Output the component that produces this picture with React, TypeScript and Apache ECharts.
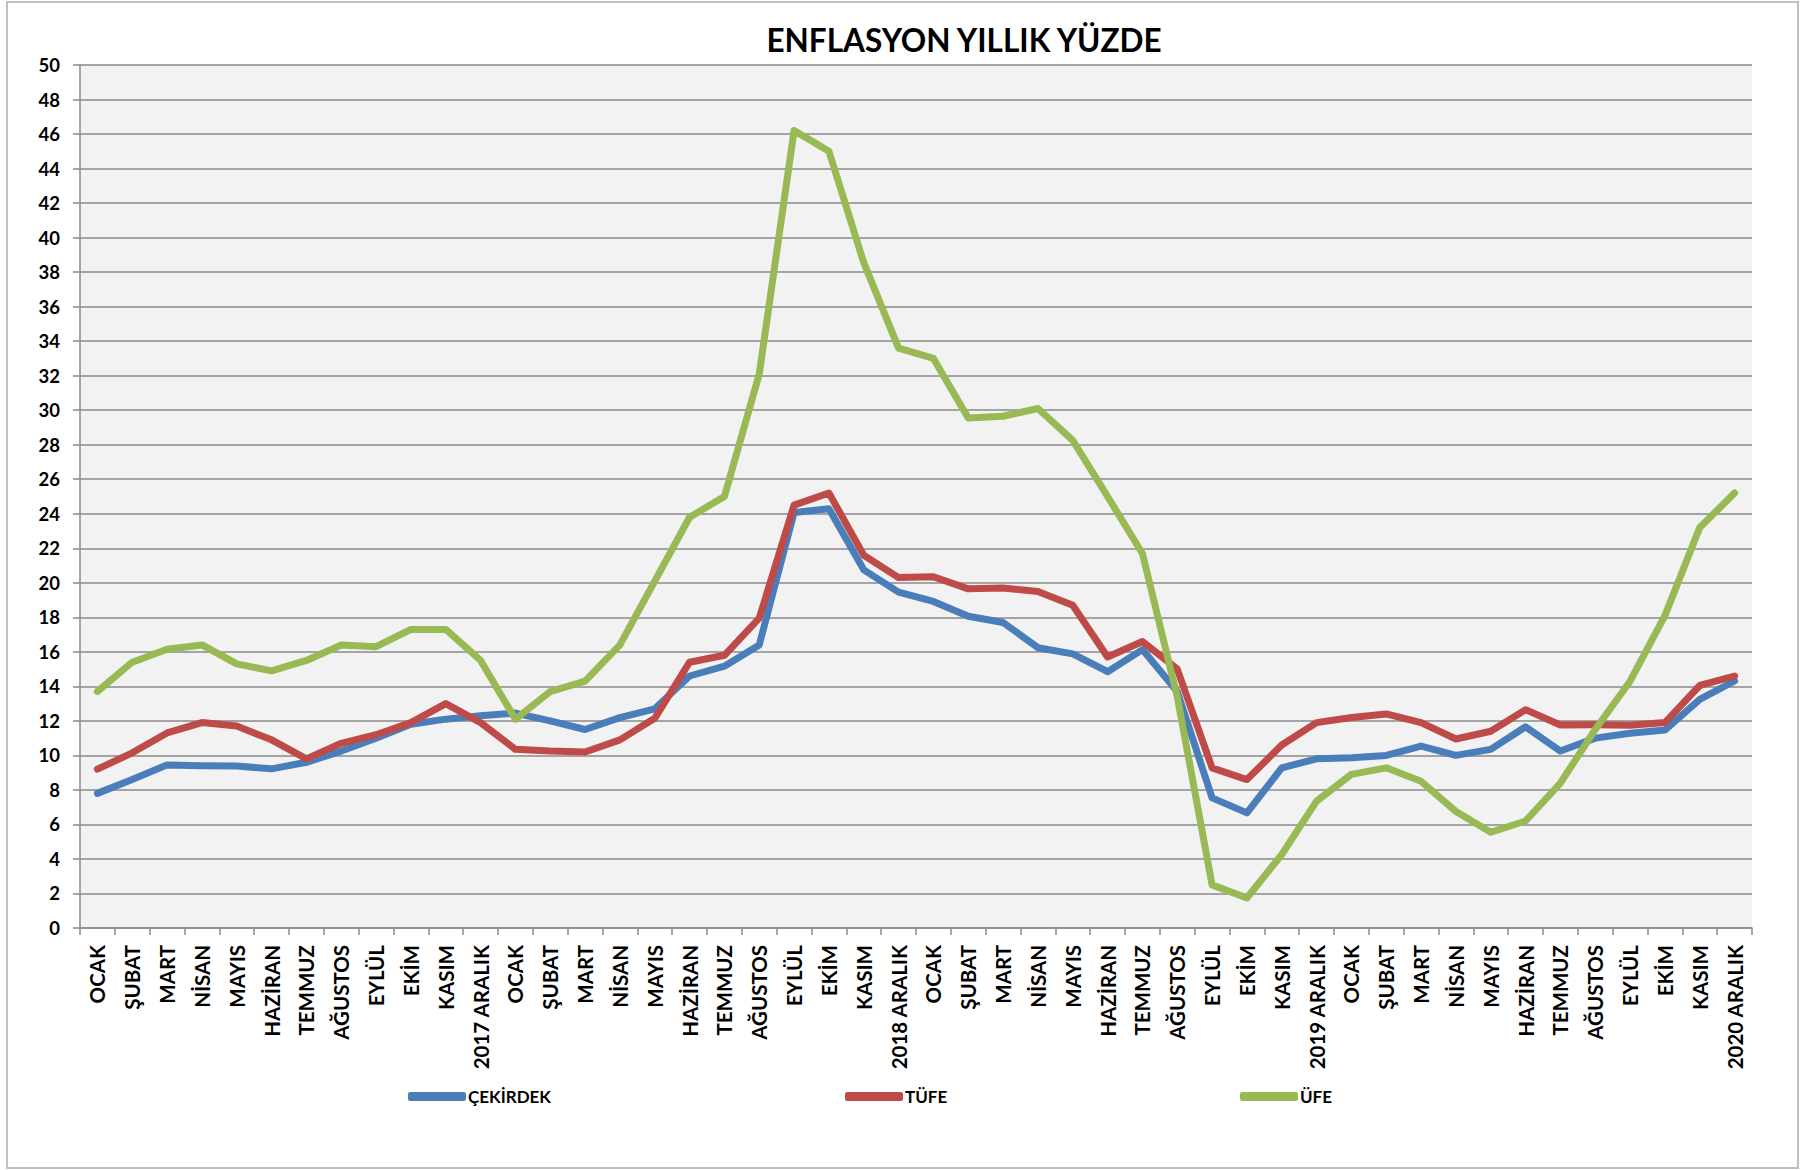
import React, { useEffect, useRef } from "react";
import * as echarts from "echarts";

const MONTHS = ["OCAK", "ŞUBAT", "MART", "NİSAN", "MAYIS", "HAZİRAN", "TEMMUZ", "AĞUSTOS", "EYLÜL", "EKİM", "KASIM"];
const YEARS = ["2017", "2018", "2019", "2020"];
const CATEGORIES: string[] = [];
YEARS.forEach((y) => {
  MONTHS.forEach((m) => CATEGORIES.push(m));
  CATEGORIES.push(y + " ARALIK");
});

const CEKIRDEK = [
  7.8, 8.6, 9.45, 9.4, 9.38, 9.22, 9.6, 10.25, 11.0, 11.8, 12.1, 12.3,
  12.45, 12.0, 11.5, 12.19, 12.7, 14.6, 15.17, 16.4, 24.07, 24.29, 20.75, 19.46,
  18.92, 18.06, 17.7, 16.24, 15.88, 14.85, 16.13, 13.7, 7.54, 6.67, 9.28, 9.8,
  9.86, 10.0, 10.54, 10.0, 10.35, 11.66, 10.25, 11.0, 11.28, 11.47, 13.25, 14.31,
];
const TUFE = [
  9.2, 10.15, 11.3, 11.9, 11.7, 10.9, 9.8, 10.7, 11.2, 11.9, 13.0, 11.9,
  10.35, 10.25, 10.2, 10.9, 12.15, 15.4, 15.8, 17.95, 24.5, 25.2, 21.6, 20.3,
  20.35, 19.65, 19.7, 19.5, 18.7, 15.7, 16.6, 15.0, 9.28, 8.6, 10.6, 11.9,
  12.2, 12.4, 11.9, 10.95, 11.4, 12.65, 11.76, 11.77, 11.75, 11.9, 14.05, 14.6,
];
const UFE = [
  13.7, 15.4, 16.15, 16.4, 15.3, 14.9, 15.5, 16.4, 16.3, 17.3, 17.3, 15.5,
  12.1, 13.7, 14.3, 16.4, 20.1, 23.8, 25.0, 32.1, 46.2, 45.0, 38.55, 33.6,
  33.0, 29.55, 29.65, 30.1, 28.25, 25.0, 21.7, 13.4, 2.5, 1.74, 4.26, 7.35,
  8.9, 9.28, 8.5, 6.75, 5.55, 6.2, 8.4, 11.5, 14.3, 18.1, 23.2, 25.2,
];

const SERIES_NAMES = ["ÇEKİRDEK", "TÜFE", "ÜFE"];
const SERIES_COLORS = ["#4a7ebb", "#be4b48", "#98b954"];
const SERIES_DATA = [CEKIRDEK, TUFE, UFE];
const LEGEND_LEFT = [403, 840, 1235];

const TITLE = "ENFLASYON YILLIK YÜZDE";
const FONT = "Lato, 'Noto Sans', sans-serif";

export default function App() {
  const ref = useRef<HTMLDivElement>(null);
  useEffect(() => {
    if (!ref.current) return;
    const chart = echarts.init(ref.current, undefined, { renderer: "svg" });
    const gray = "#8a8a8a";
    chart.setOption({
      animation: false,
      backgroundColor: "#ffffff",
      textStyle: { fontFamily: FONT },
      graphic: [
        {
          type: "rect",
          z: -10,
          silent: true,
          shape: { x: 7, y: 2, width: 1791, height: 1166 },
          style: { fill: "#ffffff", stroke: "#c0c0c0", lineWidth: 2 },
        },
      ],
      title: {
        text: TITLE,
        left: 959,
        top: 19,
        textAlign: "center",
        textStyle: { fontFamily: FONT, fontWeight: "bold", fontSize: 31.5, color: "#000" },
      },
      legend: SERIES_NAMES.map((n, i) => ({
        data: [n],
        left: LEGEND_LEFT[i],
        top: 1083,
        icon: "roundRect",
        itemWidth: 58,
        itemHeight: 9,
        selectedMode: false,
        textStyle: { fontFamily: FONT, fontWeight: "bold", fontSize: 17, color: "#000", padding: [0, 0, 0, -3] },
      })),
      grid: {
        left: 80,
        right: 58,
        top: 65,
        bottom: 242,
        show: true,
        backgroundColor: "#f2f2f2",
        borderWidth: 0,
      },
      xAxis: {
        type: "category",
        data: CATEGORIES,
        boundaryGap: true,
        axisLine: { show: true, lineStyle: { color: gray, width: 1.5 } },
        axisTick: { show: true, length: 7, interval: 0, lineStyle: { color: gray, width: 1.5 } },
        axisLabel: {
          interval: 0,
          rotate: 90,
          margin: 17,
          fontFamily: FONT,
          fontWeight: "bold",
          fontSize: 20.5,
          color: "#000",
        },
        splitLine: { show: false },
      },
      yAxis: {
        type: "value",
        min: 0,
        max: 50,
        interval: 2,
        axisLine: { show: true, lineStyle: { color: gray, width: 1.5 } },
        axisTick: { show: true, length: 7, lineStyle: { color: gray, width: 1.5 } },
        axisLabel: { margin: 20, fontFamily: FONT, fontWeight: "bold", fontSize: 18.5, color: "#000" },
        splitLine: { show: true, lineStyle: { color: gray, width: 1.5 } },
      },
      series: SERIES_NAMES.map((n, i) => ({
        name: n,
        type: "line",
        data: SERIES_DATA[i],
        showSymbol: false,
        symbol: "none",
        color: SERIES_COLORS[i],
        itemStyle: { color: SERIES_COLORS[i] },
        lineStyle: { color: SERIES_COLORS[i], width: 7, join: "round", cap: "round" },
      })),
    });
    return () => chart.dispose();
  }, []);
  return (
    <div
      ref={ref}
      style={{ position: "absolute", left: 0, top: 0, width: 1810, height: 1170 }}
    />
  );
}
